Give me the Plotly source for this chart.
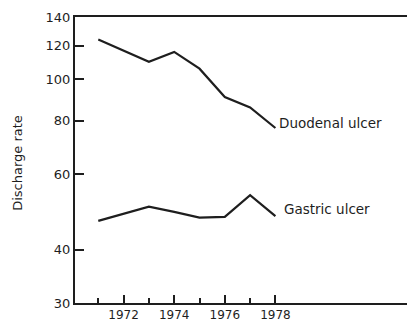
import numpy as np
import plotly.graph_objects as go

years = [1971, 1972, 1973, 1974, 1975, 1976, 1977, 1978]
duodenal = [124, 117, 110, 116, 106, 91, 86, 77]
gastric = [46.7, 48.5, 50.4, 49.0, 47.5, 47.7, 53.6, 47.9]
y_ticks = [30, 40, 60, 80, 100, 120, 140]
x_major = [1972, 1974, 1976, 1978]
x_minor = [1971, 1973, 1975, 1977]

ink = "#1e1e1e"
fig = go.Figure()
for vals in (duodenal, gastric):
    fig.add_trace(go.Scatter(x=years, y=vals, mode="lines",
                             line=dict(color=ink, width=2.2), showlegend=False,
                             hoverinfo="skip"))

fig.add_annotation(x=1978.08, y=np.log10(79), text="Duodenal ulcer", showarrow=False,
                   xanchor="left", yanchor="middle", font=dict(size=13.5, color=ink))
fig.add_annotation(x=1978.27, y=np.log10(49.85), text="Gastric ulcer", showarrow=False,
                   xanchor="left", yanchor="middle", font=dict(size=13.5, color=ink))
fig.add_annotation(xref="paper", yref="paper", x=-57/332, y=0.49, text="Discharge rate",
                   textangle=-90, showarrow=False, xanchor="center", yanchor="middle",
                   font=dict(size=13, color=ink))

fig.update_layout(
    width=407, height=322,
    margin=dict(l=75, r=0, t=17, b=17),
    paper_bgcolor="white", plot_bgcolor="white",
    font=dict(family="DejaVu Sans", color=ink),
    xaxis=dict(range=[1970.08, 1983.2], showgrid=False, zeroline=False,
               showline=True, linecolor=ink, linewidth=2, mirror=True,
               tickmode="array", tickvals=x_major, ticktext=[str(v) for v in x_major],
               ticks="inside", ticklen=8, tickwidth=1.5, tickcolor=ink,
               tickfont=dict(size=12),
               minor=dict(tickmode="array", tickvals=x_minor, ticks="inside",
                          ticklen=5, tickwidth=1.5, tickcolor=ink, showgrid=False)),
    yaxis=dict(type="log", range=[np.log10(30), np.log10(140)], showgrid=False,
               zeroline=False, showline=True, linecolor=ink, linewidth=2,
               tickmode="array", tickvals=y_ticks, ticktext=[str(v) for v in y_ticks],
               ticks="inside", ticklen=9, tickwidth=2, tickcolor=ink,
               tickfont=dict(size=13)),
)
fig.write_html("out.html")
